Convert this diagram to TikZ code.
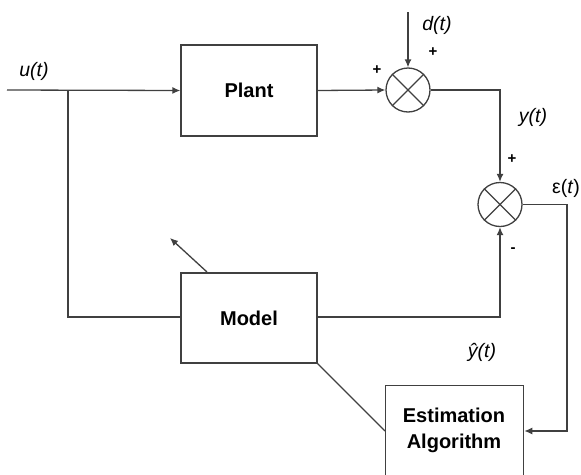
\documentclass[tikz,border=0pt]{standalone}
\usepackage{fontspec}
\setmainfont{Liberation Sans}
\usetikzlibrary{arrows.meta}
\begin{document}
\begin{tikzpicture}[x=1pt,y=-1pt,
  line/.style={draw=black!75, line width=1.3pt},
  arr/.style={line, -{Latex[length=8pt,width=7pt]}},
  blockbox/.style={draw=black!75, line width=1.3pt, minimum width=136pt, minimum height=91pt, inner sep=0pt, font=\fontsize{20}{24}\selectfont\bfseries, align=center},
  sumnode/.style={draw=black!75, line width=1.3pt, circle, minimum size=44pt, inner sep=0pt},
  lbl/.style={font=\fontsize{19.5}{22}\selectfont\itshape, inner sep=0pt},
  sgn/.style={font=\fontsize{15}{16}\selectfont\bfseries, inner sep=0pt}]
\useasboundingbox (0,0) rectangle (581,474);
\clip (0,0) rectangle (581,474);
% blocks
\node[blockbox] (plant) at (249,90.5) {Plant};
\node[blockbox, minimum height=90pt] (model) at (249,318) {Model};
\node[blockbox, minimum width=138pt, minimum height=98pt, anchor=north west] (est) at (385,385) {};
\node[font=\fontsize{20}{26}\selectfont\bfseries, align=center] (esttxt) at (454,430) {Estimation\\Algorithm};
% summing junctions
\node[sumnode] (s1) at (408,90) {};
\node[sumnode] (s2) at (500,204.5) {};
\draw[line] (s1.45) -- (s1.225) (s1.135) -- (s1.-45);
\draw[line] (s2.45) -- (s2.225) (s2.135) -- (s2.-45);
% coordinates
\coordinate (uin) at (7,90);
\coordinate (br) at (68,90);
\coordinate (brd) at (68,317);
\coordinate (din) at (408,12);
\coordinate (yc) at (500,90);
\coordinate (ec1) at (567,204.5);
\coordinate (ec2) at (567,431);
\coordinate (mc) at (500,317);
\coordinate (adT) at (170,238);
\coordinate (adS) at (207,272);
% connectors
\draw[arr] (uin) -- (plant.west);
\draw[line] (br) -- (brd) -- (model.west |- brd);
\draw[arr] (plant.east) -- (s1.west);
\draw[arr] (din) -- (s1.north);
\draw[arr] (s1.east) -- (yc) -- (s2.north);
\draw[arr] (model.east |- mc) -- (mc) -- (s2.south);
\draw[arr] (s2.east) -- (ec1) -- (ec2) -- (est.east |- ec2);
\draw[line] (model.south east) -- (est.west |- ec2);
\draw[arr] (adS) -- (adT);
% labels
\node[lbl] (lu) at (34,71) {u(t)};
\node[lbl] (ld) at (437,25) {d(t)};
\node[lbl] (ly) at (533,117) {y(t)};
\node[font=\fontsize{19.5}{22}\selectfont, inner sep=0pt] (le) at (566,188) {ε(\textit{t})};
\node[lbl] (lyh) at (482,352) {ŷ(t)};
\node[sgn] (p1) at (377,70) {+};
\node[sgn] (p2) at (433,52) {+};
\node[sgn] (p3) at (512,159) {+};
\node[sgn] (m1) at (513,250) {-};
\end{tikzpicture}
\end{document}
